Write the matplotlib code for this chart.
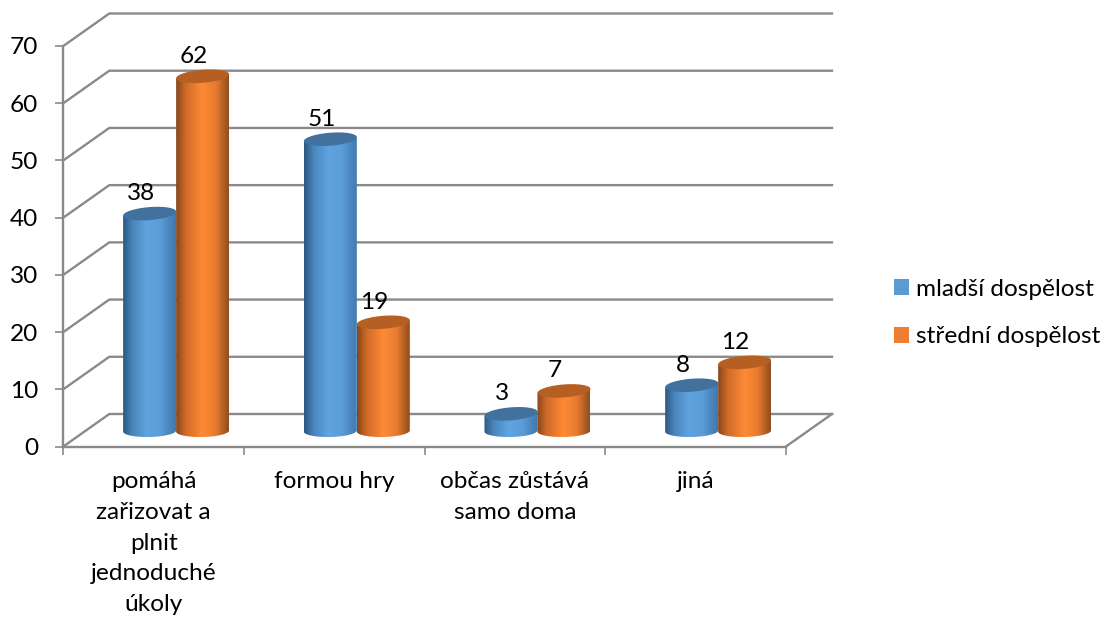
import numpy as np
import matplotlib
matplotlib.use("Agg")
import matplotlib.pyplot as plt
from matplotlib.colors import LinearSegmentedColormap
from matplotlib.patches import Patch, Polygon

categories = ["pomáhá\nzařizovat a\nplnit\njednoduché\núkoly", "formou hry",
              "občas zůstává\nsamo doma", "jiná"]
series_names = ["mladší dospělost", "střední dospělost"]
mladsi = [38, 51, 3, 8]
stredni = [62, 19, 7, 12]
y_ticks = [0, 10, 20, 30, 40, 50, 60, 70]

W, H = 1106, 622
L, R, T, B = 63.3, 786.0, 46.0, 446.5
plt.rcParams["font.family"] = ["Lato", "DejaVu Sans"]
FS = 17.6
GRID = "#8A8A8A"

fig = plt.figure(figsize=(W / 100, H / 100), dpi=100, facecolor="white")
ax = fig.add_axes([L / W, 1 - B / H, (R - L) / W, (B - T) / H])
ax.set_facecolor("none")
sx = 4 / (R - L)          # data units per pixel
sy = 70 / (B - T)
DX, DY = 46 * sx, 32.5 * sy   # depth of the 3-D box
BASE_X, BASE_Y = 22.5 * sx, 15.5 * sy  # where the cylinders stand inside it
HALF = 26.5 * sx
RY_TOP, RY_BOT = 6.5 * sy, 6 * sy
TILT = 4 / 53 * (sy / sx)  # rise of the ellipse across the bar

# walls and floor
for v in y_ticks:
    ax.plot([0, DX, 4 + DX], [v, v + DY, v + DY], color=GRID, lw=1.7,
            clip_on=False, zorder=1, solid_joinstyle="miter")
ax.plot([4, 4 + DX], [0, DY], color=GRID, lw=1.7, clip_on=False, zorder=1)

cmaps = [
    LinearSegmentedColormap.from_list("b", [(0, "#2C5780"), (.18, "#4A86BC"), (.45, "#5FA3E0"),
                                            (.7, "#5C9DD8"), (1, "#3F78AD")]),
    LinearSegmentedColormap.from_list("o", [(0, "#84461A"), (.18, "#CF6A28"), (.5, "#FF8A35"),
                                            (.75, "#E87B30"), (1, "#8E4E1E")]),
]
tops = ["#41719C", "#B65F22"]
grad = np.linspace(0, 1, 256)[None, :]
t = np.linspace(0, 2 * np.pi, 181)

z = 3
for s, values in enumerate([mladsi, stredni]):
    for i, v in enumerate(values):
        cx = i + 0.5 + BASE_X + (s - 0.5) * 2 * HALF
        top = v + BASE_Y
        lower = np.linspace(np.pi, 2 * np.pi, 61)
        xb = cx + HALF * np.cos(lower)
        yb = BASE_Y + RY_BOT * np.sin(lower) + (xb - cx) * TILT * 0.3
        upper = np.linspace(0, np.pi, 61)
        xu = cx + HALF * np.cos(upper)
        yu = top + (xu - cx) * TILT
        body = Polygon(np.r_[np.c_[xb, yb], np.c_[xu, yu]], closed=True,
                       transform=ax.transData, facecolor="none", edgecolor="none")
        ax.add_patch(body)
        im = ax.imshow(grad, cmap=cmaps[s], extent=[cx - HALF, cx + HALF, BASE_Y - RY_BOT, top + RY_TOP * 2],
                       aspect="auto", zorder=z, clip_on=True)
        im.set_clip_path(body)
        xt = cx + HALF * np.cos(t)
        yt = top + RY_TOP * np.sin(t) + (xt - cx) * TILT
        ax.fill(xt, yt, color=tops[s], zorder=z + 0.5, clip_on=False, lw=0)
        ax.text(cx - 9 * sx, top + 20 * sy, str(v), ha="center", va="center",
                fontsize=FS, color="black", zorder=20, clip_on=False)
        z += 1

ax.set_xlim(0, 4)
ax.set_ylim(0, 70)
for k in ("top", "right"):
    ax.spines[k].set_visible(False)
for k in ("left", "bottom"):
    ax.spines[k].set_color(GRID)
    ax.spines[k].set_linewidth(1.7)
ax.set_yticks(y_ticks)
ax.set_xticks([0, 1, 2, 3, 4])
ax.set_xticklabels([])
ax.set_xticks([i + 0.5 for i in range(4)], minor=True)
ax.set_xticklabels(categories, minor=True, fontsize=FS, linespacing=1.58, color="black")
ax.tick_params(axis="x", which="major", length=6, width=1.2, color=GRID)
ax.tick_params(axis="x", which="minor", length=0, pad=17.5)
ax.tick_params(axis="y", length=6, width=1.2, color=GRID, labelsize=FS, pad=12, labelcolor="black")

handles = [Patch(facecolor="#5B9BD5", edgecolor="none"), Patch(facecolor="#ED7D31", edgecolor="none")]
fig.legend(handles, series_names, loc="center left",
           bbox_to_anchor=(884 / W, 1 - 313 / H), frameon=False, fontsize=FS,
           handlelength=0.61, handleheight=0.61, handletextpad=0.29,
           labelspacing=1.1, borderpad=0, borderaxespad=0.4)

fig.savefig("out.png", dpi=100, facecolor="white")
